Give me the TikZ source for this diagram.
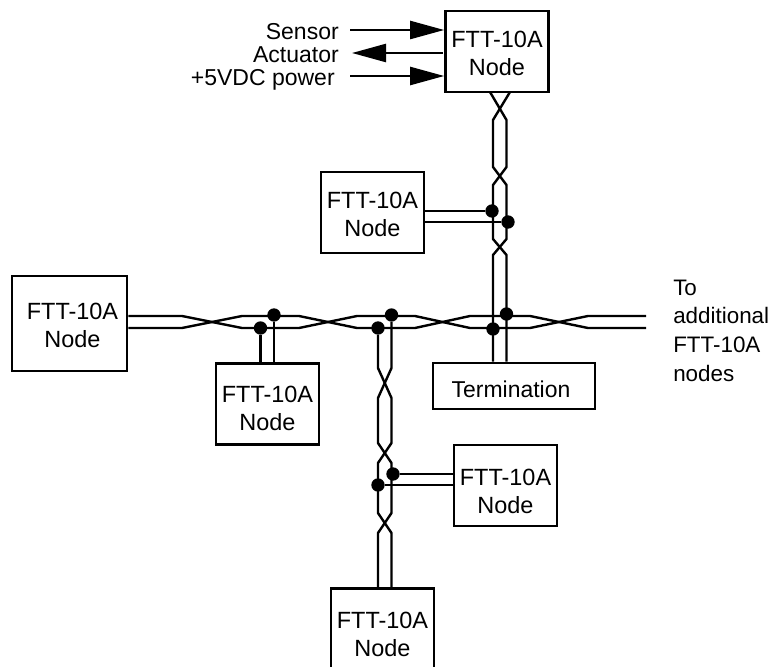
\documentclass[tikz,border=0pt]{standalone}
\usepackage{fontspec}
\setmainfont{Liberation Sans}
\usetikzlibrary{arrows.meta}
\tikzset{
  box/.style={draw,line width=2pt,align=center,minimum width=77.25pt,minimum height=60.75pt,inner sep=0pt,
    font=\fontsize{17.6}{21}\selectfont},
  down/.style={text height={33.6pt+#1*1.5pt}},
  lbl/.style={font=\fontsize{17.25}{21}\selectfont,inner sep=0pt},
  wire/.style={line width=1.8pt,line join=round},
  joint/.style={circle,fill=black,minimum size=10pt,inner sep=0pt},
  sig/.style={line width=1.8pt,-{Triangle[length=25.5pt,width=13.5pt]}}
}
\begin{document}
\begin{tikzpicture}[x=0.75pt,y=-0.75pt]
      \useasboundingbox (0,0) rectangle (771,667);

      \node[box,down=1.5] (topnode) at (497,51.5) {FTT-10A\\Node};
      \node[box,down=1.5] (midnode) at (372.5,212.5) {FTT-10A\\Node};
      \node[box,down=2,minimum width=86.25pt,minimum height=71.25pt] (leftnode) at (69.5,323.5) {\hspace*{4.5pt}FTT-10A\\\hspace*{4.5pt}Node};
      \node[box,down=4] (lownode) at (267.5,404) {FTT-10A\\Node};
      \node[box,font=\fontsize{17.2}{21}\selectfont,text height=17pt,minimum width=121.5pt,minimum height=34.5pt] (term) at (514,386) {Termination\hspace*{4.5pt}};
      \node[box,down=6] (sidenode) at (505.5,485.5) {FTT-10A\\Node};
      \node[box,down=5] (endnode) at (382.5,629) {FTT-10A\\Node};

      \node[lbl,anchor=base east] (sensor) at (339,40) {Sensor};
      \node[lbl,anchor=base east] (actuator) at (339,63) {Actuator};
      \node[lbl,anchor=base east] (power) at (335,85) {+5VDC power};
      \node[lbl,anchor=west,align=left,font=\fontsize{16.8}{21.5}\selectfont] (more) at (673,330.5) {To\\additional\\FTT-10A\\nodes};

      \node[joint] (ja) at (492,211) {};
      \node[joint] (jb) at (508,222) {};
      \node[joint] (jc) at (506.5,314) {};
      \node[joint] (jd) at (493,329) {};
      \node[joint] (je) at (274,315) {};
      \node[joint] (jf) at (260.5,328) {};
      \node[joint] (jg) at (391.5,315) {};
      \node[joint] (jh) at (378,328) {};
      \node[joint] (ji) at (393,474) {};
      \node[joint] (jj) at (378,485) {};

      \coordinate (sensorend) at (350,30);
      \coordinate (actend) at (352,53);
      \coordinate (powerend) at (350,76);
      \coordinate (actstart) at (443,53);
      \coordinate (busa) at (646,316);
      \coordinate (busb) at (646,328);
      \coordinate (topa) at (490,92);
      \coordinate (topb) at (510,92);

      \draw[sig] (sensorend) -- (sensorend -| topnode.west);
      \draw[sig] (actstart) -- (actend);
      \draw[sig] (powerend) -- (powerend -| topnode.west);

      \draw[wire] (leftnode.east |- busa) -- (182,316) -- (242,328) -- (299,328) -- (357,316) -- (415,316)
      -- (470,328) -- (530,328) -- (588,316) -- (busa);
      \draw[wire] (leftnode.east |- busb) -- (182,328) -- (242,316) -- (299,316) -- (357,328) -- (415,328)
      -- (470,316) -- (530,316) -- (588,328) -- (busb);

      \draw[wire] (topa) -- (506.5,120) -- (506.5,167) -- (493,185) -- (493,239) -- (506.5,255)
      -- (jc |- term.north);
      \draw[wire] (topb) -- (493,120) -- (493,167) -- (506.5,185) -- (506.5,239) -- (493,255)
      -- (jd |- term.north);

      \draw[wire] (jg) -- (391.5,368) -- (378,398) -- (378,443) -- (391.5,463) -- (391.5,513)
      -- (378,533) -- (jh |- endnode.north);
      \draw[wire] (jh) -- (378,368) -- (391.5,398) -- (391.5,443) -- (378,463) -- (378,513)
      -- (391.5,533) -- (jg |- endnode.north);

      \draw[wire] (midnode.east |- ja) -- (ja);
      \draw[wire] (midnode.east |- jb) -- (jb);
      \draw[wire] (je) -- (je |- lownode.north);
      \draw[wire] (jf) -- (jf |- lownode.north);
      \draw[wire] (sidenode.west |- ji) -- (ji);
      \draw[wire] (sidenode.west |- jj) -- (jj);

    \end{tikzpicture}
\end{document}
